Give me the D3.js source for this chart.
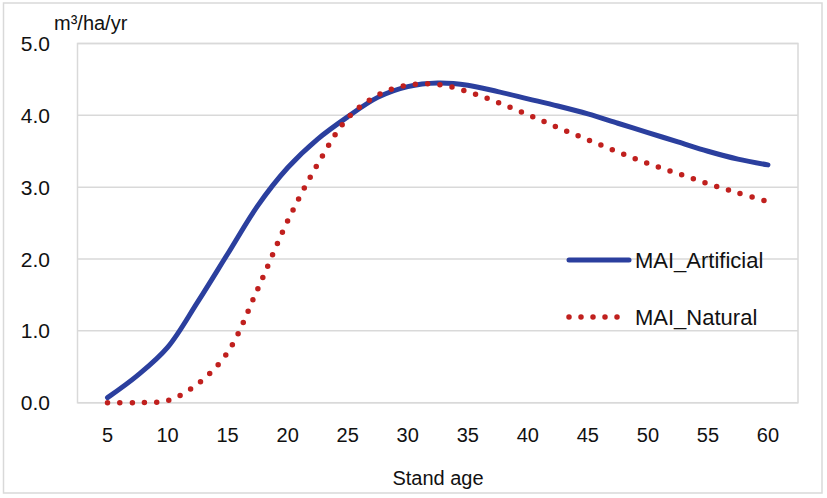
<!DOCTYPE html>
<html><head><meta charset="utf-8">
<script src="https://cdn.jsdelivr.net/npm/d3@7"></script>
<style>body{margin:0;background:#fff}svg{display:block}text{font-family:"Liberation Sans",Arial,sans-serif;fill:#111}</style>
</head><body><svg id="c" width="827" height="498"></svg>
<script>
const ages = [5,7.5,10,12.5,15,17.5,20,22.5,25,27.5,30,32.5,35,37.5,40,42.5,45,47.5,50,52.5,55,57.5,60];
const maiArtificial = [0.07,0.38,0.77,1.40,2.07,2.74,3.27,3.67,3.98,4.25,4.40,4.45,4.42,4.33,4.23,4.13,4.02,3.89,3.76,3.63,3.50,3.39,3.31];
const maiNatural = [0.0,0.0,0.03,0.26,0.70,1.58,2.53,3.32,3.96,4.28,4.42,4.43,4.33,4.18,4.01,3.83,3.66,3.49,3.33,3.19,3.05,2.92,2.80];
const xTicks = [5,10,15,20,25,30,35,40,45,50,55,60];
const yTicks = [0,1,2,3,4,5];
const seriesNames = ["MAI_Artificial","MAI_Natural"];

const svg = d3.select("#c");
const L=77.5, R=798, T=43.5, B=402.7;
const x = d3.scaleLinear().domain([2.5,62.5]).range([L,R]);
const y = d3.scaleLinear().domain([0,5]).range([B,T]);

svg.append("rect").attr("x",3.5).attr("y",3).attr("width",818.5).attr("height",490)
  .attr("fill","none").attr("stroke","#d9d9d9").attr("stroke-width",1.5);

svg.append("g").selectAll("line").data(yTicks).join("line")
  .attr("x1",L).attr("x2",R).attr("y1",d=>y(d)).attr("y2",d=>y(d))
  .attr("stroke","#d9d9d9").attr("stroke-width",1.5);
svg.append("rect").attr("x",L).attr("y",T).attr("width",R-L).attr("height",B-T)
  .attr("fill","none").attr("stroke","#d9d9d9").attr("stroke-width",1.5);

svg.append("g").selectAll("text").data(yTicks).join("text")
  .attr("x",50).attr("y",d=>y(d)).attr("dy","0.36em").attr("text-anchor","end")
  .style("font-size","21px").text(d=>d3.format(".1f")(d));
svg.append("g").selectAll("text").data(xTicks).join("text")
  .attr("x",d=>x(d)).attr("y",435).attr("dy","0.36em").attr("text-anchor","middle")
  .style("font-size","20px").text(d=>d);
svg.append("text").attr("x",438).attr("y",485).attr("text-anchor","middle")
  .style("font-size","20px").text("Stand age");
svg.append("text").attr("x",54).attr("y",30).style("font-size","20px").text("m³/ha/yr");

const line = d3.line().x((d,i)=>x(ages[i])).y(d=>y(Math.max(0,d))).curve(d3.curveCatmullRom.alpha(0.5));
const blue="#2B3F9E", red="#C0201E";
svg.append("path").datum(maiArtificial).attr("d",line).attr("fill","none")
  .attr("stroke",blue).attr("stroke-width",5).attr("stroke-linecap","round");
svg.append("path").datum(maiNatural).attr("d",line).attr("fill","none")
  .attr("stroke",red).attr("stroke-width",5.5).attr("stroke-linecap","round")
  .attr("stroke-dasharray","0 12.3");

const lg = svg.append("g");
lg.append("line").attr("x1",569).attr("x2",629).attr("y1",260).attr("y2",260)
  .attr("stroke",blue).attr("stroke-width",5).attr("stroke-linecap","round");
lg.append("line").attr("x1",569).attr("x2",629).attr("y1",317).attr("y2",317)
  .attr("stroke",red).attr("stroke-width",5.5).attr("stroke-linecap","round").attr("stroke-dasharray","0 12");
lg.selectAll("text").data(seriesNames).join("text")
  .attr("x",635).attr("y",(d,i)=>i?317:260).attr("dy","0.36em")
  .style("font-size","22px").text(d=>d);
</script></body></html>
